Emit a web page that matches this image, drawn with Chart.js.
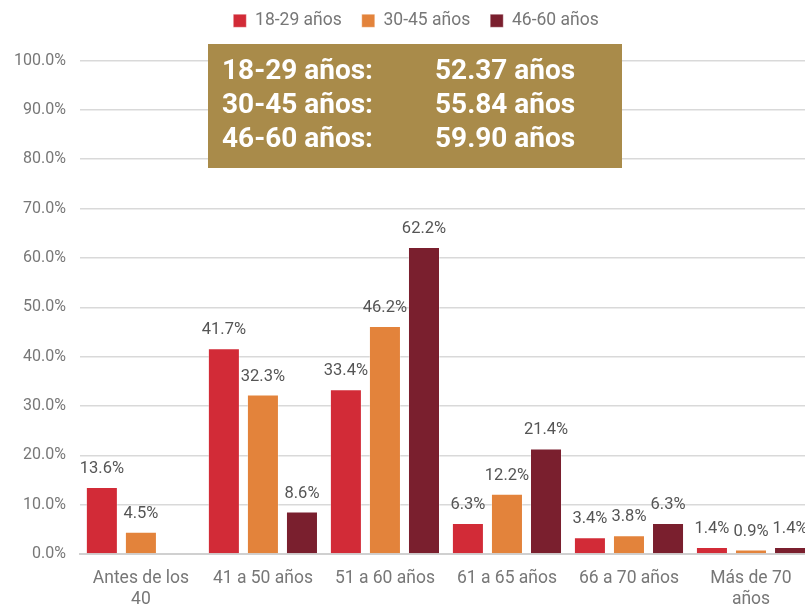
<!DOCTYPE html>
<html>
<head>
<meta charset="utf-8">
<script src="https://cdn.jsdelivr.net/npm/chart.js@4/dist/chart.umd.min.js"></script>
<style>
  html, body { margin: 0; padding: 0; background: #fff; overflow: hidden; }
  #wrap { width: 812px; height: 604px; overflow: hidden; }
</style>
</head>
<body>
<div id="wrap"><canvas id="c" width="812" height="616"></canvas></div>
<script>
// categories and series
const categories = [['Antes de los', '40'], '41 a 50 años', '51 a 60 años', '61 a 65 años', '66 a 70 años', ['Más de 70', 'años']]
const seriesNames = ['18-29 años', '30-45 años', '46-60 años']
const young = [13.6, 41.7, 33.4, 6.3, 3.4, 1.4]
const middle = [4.5, 32.3, 46.2, 12.2, 3.8, 0.9]
const senior = [null, 8.6, 62.2, 21.4, 6.3, 1.4]
const boxLabels = ['18-29 años:', '30-45 años:', '46-60 años:']
const boxValues = ['52.37 años', '55.84 años', '59.90 años']

const colors = ['#D22B37', '#E3833B', '#7A1F2E']
const FONT = 'Roboto, "DejaVu Sans", sans-serif'

// draws the value above each bar
const barValues = {
  id: 'barValues',
  afterDatasetsDraw (chart) {
    const ctx = chart.ctx
    ctx.save()
    ctx.font = '16.5px ' + FONT
    ctx.fillStyle = '#555'
    ctx.textAlign = 'center'
    ctx.textBaseline = 'alphabetic'
    chart.data.datasets.forEach((ds, i) => {
      const meta = chart.getDatasetMeta(i)
      meta.data.forEach((bar, j) => {
        const v = ds.data[j]
        if (v == null) return
        ctx.fillText(v.toFixed(1) + '%', bar.x, bar.y - 14)
      })
    })
    ctx.restore()
  }
}

// extra room under the legend, and nudge it a little to the right
const legendSpace = {
  id: 'legendSpace',
  beforeInit (chart) {
    const legend = chart.legend
    const fit = legend.fit
    legend.fit = function () {
      fit.call(this)
      this.height += 21
    }
    const draw = legend.draw
    legend.draw = function () {
      this.ctx.save()
      this.ctx.translate(10, 0)
      draw.call(this)
      this.ctx.restore()
    }
  }
}

// gold box with average ages
const avgBox = {
  id: 'avgBox',
  afterDraw (chart) {
    const ctx = chart.ctx
    const x = 208
    const y = 44
    ctx.save()
    ctx.fillStyle = '#A98B4A'
    ctx.fillRect(x, y, 414, 124)
    ctx.fillStyle = '#fff'
    ctx.font = 'bold 28px ' + FONT
    ctx.textBaseline = 'middle'
    boxLabels.forEach((t, i) => {
      ctx.fillText(t, x + 14, y + 28 + i * 34)
      ctx.fillText(boxValues[i], x + 227, y + 28 + i * 34)
    })
    ctx.restore()
  }
}

Chart.defaults.font.family = FONT
Chart.defaults.color = '#777'

new Chart(document.getElementById('c'), {
  type: 'bar',
  data: {
    labels: categories,
    datasets: [young, middle, senior].map((d, i) => ({
      label: seriesNames[i],
      data: d,
      backgroundColor: colors[i],
      borderColor: 'rgba(255,255,255,0.35)',
      borderWidth: 1,
      categoryPercentage: 0.96,
      barPercentage: 0.82
    }))
  },
  options: {
    responsive: false,
    animation: false,
    layout: { padding: { top: -8, left: 0, right: 0, bottom: 0 } },
    plugins: {
      legend: {
        position: 'top',
        labels: {
          boxWidth: 13,
          boxHeight: 13,
          padding: 20,
          font: { size: 17.5 },
          color: '#777'
        }
      },
      tooltip: { enabled: false }
    },
    scales: {
      x: {
        grid: { display: false },
        border: { color: '#d0d0d0', width: 2 },
        ticks: { font: { size: 17.5, lineHeight: 1.2 }, color: '#777', padding: 6, maxRotation: 0, autoSkip: false }
      },
      y: {
        min: 0,
        max: 100,
        ticks: {
          stepSize: 10,
          font: { size: 16 },
          color: '#777',
          padding: 14,
          callback: (v) => v.toFixed(1) + '%'
        },
        grid: { color: '#d9d9d9', lineWidth: 1.5, drawTicks: false },
        border: { display: false }
      }
    }
  },
  plugins: [barValues, legendSpace, avgBox]
})
</script>
</body>
</html>
